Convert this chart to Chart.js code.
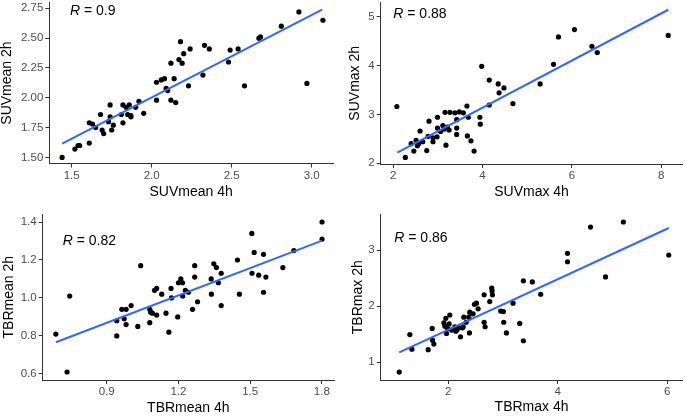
<!DOCTYPE html>
<html>
<head>
<meta charset="utf-8">
<script src="https://cdn.jsdelivr.net/npm/chart.js@4.4.0/dist/chart.umd.min.js"></script>
<style>
	body { margin: 0; background: #fff; }
	#wrap { position: relative; width: 685px; height: 416px; overflow: hidden; }
	#wrap canvas { position: absolute; }
</style>
</head>
<body>
<div id="wrap">
	<canvas id="suvmean" width="340" height="200" style="left:0px;top:0px"></canvas>
	<canvas id="suvmax" width="345" height="200" style="left:340px;top:0px"></canvas>
	<canvas id="tbrmean" width="340" height="216" style="left:0px;top:200px"></canvas>
	<canvas id="tbrmax" width="345" height="216" style="left:340px;top:200px"></canvas>
</div>
<script>
'use strict';

// SUVmean, 4h vs 2h
var suvMean4h = [1.44,1.52,1.54,1.55,1.61,1.61,1.63,1.65,1.68,1.69,1.70,1.73,1.74,1.74,1.75,1.76,1.81,1.82,1.82,1.84,1.85,1.86,1.87,1.87,1.90,1.92,1.95,2.03,2.03,2.06,2.08,2.09,2.10,2.12,2.15,2.14,2.12,2.17,2.18,2.19,2.20,2.23,2.24,2.32,2.33,2.36,2.48,2.49,2.54,2.58,2.67,2.68,2.81,2.92,2.97,3.07];
var suvMean2h = [1.50,1.57,1.60,1.60,1.62,1.79,1.78,1.75,1.86,1.73,1.70,1.80,1.94,1.84,1.73,1.77,1.86,1.94,1.79,1.92,1.86,1.94,1.85,1.84,1.92,1.97,1.87,1.98,2.13,2.15,2.16,2.08,2.06,1.98,1.96,2.16,2.29,2.32,2.47,2.29,2.37,2.10,2.41,2.19,2.44,2.41,2.30,2.40,2.41,2.10,2.50,2.51,2.60,2.72,2.12,2.65];
var suvMeanFit4h = [1.44, 3.065];
var suvMeanFit2h = [1.616, 2.739];
var suvMeanXTicks = ['1.5','2.0','2.5','3.0'];
var suvMeanYTicks = ['1.50','1.75','2.00','2.25','2.50','2.75'];

// SUVmax
var suvMax4h = [2.08,2.27,2.40,2.46,2.51,2.54,2.57,2.60,2.66,2.75,2.78,2.80,2.89,2.89,2.99,2.99,2.98,3.06,3.11,3.14,3.16,3.18,3.21,3.25,3.27,3.38,3.42,3.42,3.42,3.48,3.57,3.65,3.66,3.68,3.74,3.81,3.94,3.95,3.98,4.15,4.15,4.35,4.37,4.48,4.68,5.29,5.59,5.70,6.06,6.45,6.57,8.16];
var suvMax2h = [3.16,2.12,2.40,2.25,2.47,2.36,2.40,2.66,2.44,2.26,2.55,2.86,2.44,2.52,2.94,2.72,2.54,2.65,2.77,2.70,3.04,2.37,2.74,2.68,3.04,3.03,2.72,2.59,2.89,3.05,3.03,3.17,2.56,2.94,2.46,2.25,2.94,2.80,3.98,3.70,3.19,3.62,3.44,3.54,3.22,3.62,4.02,4.58,4.73,4.39,4.26,4.61];
var suvMaxFit4h = [2.09, 8.16];
var suvMaxFit2h = [2.22, 5.135];
var suvMaxXTicks = ['2','4','6','8'];
var suvMaxYTicks = ['2','3','4','5'];

// TBRmean
var tbrMean4h = [0.687,0.734,0.745,0.942,0.942,0.963,0.973,0.981,0.981,1.002,1.03,1.042,1.08,1.08,1.084,1.091,1.10,1.109,1.109,1.13,1.148,1.16,1.169,1.171,1.197,1.20,1.21,1.217,1.218,1.229,1.242,1.259,1.268,1.268,1.28,1.337,1.338,1.348,1.359,1.367,1.379,1.379,1.447,1.455,1.507,1.508,1.517,1.536,1.556,1.556,1.566,1.637,1.683,1.801,1.801];
var tbrMean2h = [0.81,0.61,1.01,0.80,0.88,0.94,0.89,0.94,0.86,0.96,0.85,1.17,0.87,0.94,0.925,0.92,1.04,1.05,0.91,1.02,0.92,0.82,1.05,1.00,0.90,1.08,1.10,1.08,1.01,1.04,1.03,0.94,1.17,1.11,0.98,1.10,1.02,1.18,1.16,1.08,1.13,0.96,1.20,1.02,1.34,1.13,1.24,1.12,1.23,1.03,1.11,1.16,1.25,1.40,1.31];
var tbrMeanFit4h = [0.687, 1.801];
var tbrMeanFit2h = [0.767, 1.302];
var tbrMeanXTicks = ['0.9','1.2','1.5','1.8'];
var tbrMeanYTicks = ['0.6','0.8','1.0','1.2','1.4'];

// TBRmax
var tbrMax4h = [1.106,1.30,1.337,1.635,1.708,1.714,1.739,1.921,1.94,1.957,1.97,1.988,2.018,2.03,2.061,2.122,2.14,2.164,2.195,2.225,2.261,2.286,2.274,2.328,2.377,2.389,2.395,2.456,2.48,2.517,2.547,2.657,2.657,2.675,2.76,2.796,2.802,2.809,2.96,3.009,3.015,3.064,3.185,3.307,3.374,3.374,3.538,3.69,4.18,4.18,4.60,4.875,5.20,6.03];
var tbrMax2h = [0.82,1.49,1.23,1.22,1.60,1.39,1.32,1.70,1.64,1.78,1.51,1.60,1.68,1.84,1.57,1.63,1.55,1.58,1.61,1.45,1.61,1.80,1.63,1.71,1.80,1.52,1.89,1.86,2.03,2.05,1.95,2.20,1.71,1.63,2.08,2.32,2.27,2.20,1.91,1.90,1.71,1.52,2.05,1.69,2.45,1.38,2.43,2.21,2.94,2.79,3.41,2.52,3.50,2.91];
var tbrMaxFit4h = [1.106, 6.03];
var tbrMaxFit2h = [1.173, 3.393];
var tbrMaxXTicks = ['2','4','6'];
var tbrMaxYTicks = ['1','2','3'];

(function(){

	var FONT = '"Liberation Sans", Arial, Helvetica, sans-serif';

	// writes "R = value" in the top left corner of a panel
	var corrLabel = {
		id : 'corrLabel',
		afterDatasetsDraw : function(chart, args, opts){
			var ctx = chart.ctx;
			ctx.save();
			ctx.fillStyle = '#000';
			ctx.textBaseline = 'middle';
			ctx.textAlign = 'left';
			ctx.font = 'italic 14px ' + FONT;
			ctx.fillText('R', opts.x, opts.y);
			var w = ctx.measureText('R').width;
			ctx.font = '14px ' + FONT;
			ctx.fillText(' = ' + opts.value, opts.x + w, opts.y);
			ctx.restore();
		}
	};

	var toPoints = function(xs, ys){
		return xs.map(function(v, i){ return {x : v, y : ys[i]}; });
	};

	// one linear axis, ggplot classic look
	var axis = function(p, horizontal){
		var labels = horizontal ? p.xTicks : p.yTicks;
		return {
			type : 'linear',
			position : horizontal ? 'bottom' : 'left',
			min : horizontal ? p.xMin : p.yMin,
			max : horizontal ? p.xMax : p.yMax,
			afterBuildTicks : function(scale){
				scale.ticks = labels.map(function(t){ return {value : parseFloat(t)}; });
			},
			afterFit : function(scale){
				if (horizontal) {
					scale.height = p.xAxisHeight;
				} else {
					scale.width = p.yAxisWidth;
				}
				scale.paddingTop = 0;
				scale.paddingBottom = 0;
				scale.paddingLeft = 0;
				scale.paddingRight = 0;
			},
			ticks : {
				color : '#4d4d4d',
				font : {family : FONT, size : 11.5},
				padding : horizontal ? 1 : 2,
				maxRotation : 0,
				autoSkip : false,
				callback : function(value, index){ return labels[index]; }
			},
			grid : {
				display : true,
				drawOnChartArea : false,
				drawTicks : true,
				tickLength : 4,
				color : '#333',
				lineWidth : 1
			},
			border : {display : true, color : '#333', width : 1},
			title : {
				display : true,
				text : horizontal ? p.xTitle : p.yTitle,
				color : '#000',
				font : {family : FONT, size : 14, lineHeight : 1.2},
				padding : horizontal ? {top : 0, bottom : p.xTitlePad} : {top : p.yTitlePad, bottom : 0}
			}
		};
	};

	var scatter_panel = function(id, p){
		var ctx = document.getElementById(id).getContext('2d');
		var data = {
			datasets : [
				{
					type : 'line',
					data : toPoints(p.fitX, p.fitY),
					borderColor : '#3366FF',
					borderWidth : 2,
					pointRadius : 0,
					fill : false
				},
				{
					data : toPoints(p.x, p.y),
					backgroundColor : '#000',
					borderWidth : 0,
					pointRadius : 2.6,
					pointHoverRadius : 2.6
				}
			]
		};
		var options = {
			responsive : false,
			animation : false,
			layout : {padding : {top : p.padTop, right : p.padRight, left : 0, bottom : 0}},
			plugins : {
				legend : {display : false},
				tooltip : {enabled : false},
				corrLabel : {x : p.rX, y : p.rY, value : p.r}
			},
			scales : {
				x : axis(p, true),
				y : axis(p, false)
			}
		};
		new Chart(ctx, {type : 'scatter', data : data, options : options, plugins : [corrLabel]});
	};

	scatter_panel('#suvmean'.slice(1), {
		x : suvMean4h, y : suvMean2h, fitX : suvMeanFit4h, fitY : suvMeanFit2h,
		xTicks : suvMeanXTicks, yTicks : suvMeanYTicks,
		xTitle : 'SUVmean 4h', yTitle : 'SUVmean 2h', r : '0.9',
		xMin : 1.36, xMax : 3.133, yMin : 1.449, yMax : 2.798,
		yAxisWidth : 49.3, xAxisHeight : 36.5, padTop : 0, padRight : 7,
		xTitlePad : -1, yTitlePad : -1, rX : 70, rY : 10.7
	});

	scatter_panel('suvmax', {
		x : suvMax4h, y : suvMax2h, fitX : suvMaxFit4h, fitY : suvMaxFit2h,
		xTicks : suvMaxXTicks, yTicks : suvMaxYTicks,
		xTitle : 'SUVmax 4h', yTitle : 'SUVmax 2h', r : '0.88',
		xMin : 1.718, xMax : 8.477, yMin : 1.986, yMax : 5.281,
		yAxisWidth : 40.7, xAxisHeight : 36, padTop : 0, padRight : 2,
		xTitlePad : -1, yTitlePad : 6.6, rX : 53.3, rY : 14
	});

	scatter_panel('tbrmean', {
		x : tbrMean4h, y : tbrMean2h, fitX : tbrMeanFit4h, fitY : tbrMeanFit2h,
		xTicks : tbrMeanXTicks, yTicks : tbrMeanYTicks,
		xTitle : 'TBRmean 4h', yTitle : 'TBRmean 2h', r : '0.82',
		xMin : 0.632, xMax : 1.851, yMin : 0.568, yMax : 1.4395,
		yAxisWidth : 42.7, xAxisHeight : 36, padTop : 14.5, padRight : 6,
		xTitlePad : -0.7, yTitlePad : 0.4, rX : 62.7, rY : 40.7
	});

	scatter_panel('tbrmax', {
		x : tbrMax4h, y : tbrMax2h, fitX : tbrMaxFit4h, fitY : tbrMaxFit2h,
		xTicks : tbrMaxXTicks, yTicks : tbrMaxYTicks,
		xTitle : 'TBRmax 4h', yTitle : 'TBRmax 2h', r : '0.86',
		xMin : 0.7675, xMax : 6.279, yMin : 0.679, yMax : 3.634,
		yAxisWidth : 40.7, xAxisHeight : 36, padTop : 14.5, padRight : 2,
		xTitlePad : 0, yTitlePad : 9.9, rX : 54.3, rY : 37.7
	});

})();
</script>
</body>
</html>
